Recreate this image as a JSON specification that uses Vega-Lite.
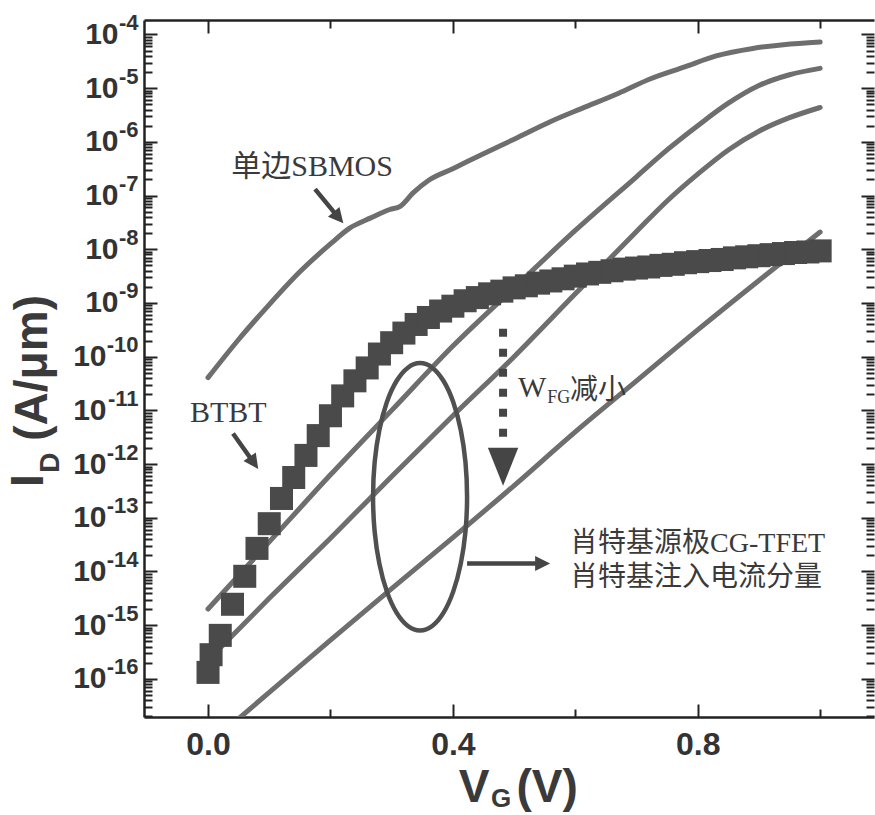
{
  "$schema": "https://vega.github.io/schema/vega-lite/v6.json",
  "width": 730,
  "height": 697,
  "autosize": {"type": "none"},
  "padding": {"left": 144, "top": 20, "right": 1, "bottom": 98},
  "background": "white",
  "config": {
    "view": {"stroke": null},
    "axis": {"domainColor": "#222", "domainWidth": 2.5, "tickColor": "#222", "tickWidth": 2, "labelFont": "Liberation Sans", "labelFontWeight": "bold", "labelColor": "#333", "grid": false, "labelOverlap": false}
  },
  "datasets": {
    "curves": [
      {"series": "SBMOS", "x": 0, "y": 4.07e-11}, {"series": "SBMOS", "x": 0.05, "y": 2.09e-10}, {"series": "SBMOS", "x": 0.1, "y": 9.33e-10}, {"series": "SBMOS", "x": 0.15, "y": 3.8e-9}, {"series": "SBMOS", "x": 0.2, "y": 1.26e-8}, {"series": "SBMOS", "x": 0.232, "y": 2.51e-8}, {"series": "SBMOS", "x": 0.265, "y": 3.8e-8}, {"series": "SBMOS", "x": 0.297, "y": 5.5e-8}, {"series": "SBMOS", "x": 0.314, "y": 6.31e-8}, {"series": "SBMOS", "x": 0.335, "y": 1.12e-7}, {"series": "SBMOS", "x": 0.36, "y": 1.91e-7}, {"series": "SBMOS", "x": 0.4, "y": 3.16e-7}, {"series": "SBMOS", "x": 0.45, "y": 6.03e-7}, {"series": "SBMOS", "x": 0.5, "y": 1.12e-6}, {"series": "SBMOS", "x": 0.56, "y": 2.4e-6}, {"series": "SBMOS", "x": 0.61, "y": 4.17e-6}, {"series": "SBMOS", "x": 0.67, "y": 7.94e-6}, {"series": "SBMOS", "x": 0.72, "y": 1.45e-5}, {"series": "SBMOS", "x": 0.78, "y": 2.51e-5}, {"series": "SBMOS", "x": 0.83, "y": 3.98e-5}, {"series": "SBMOS", "x": 0.89, "y": 5.5e-5}, {"series": "SBMOS", "x": 0.94, "y": 6.46e-5}, {"series": "SBMOS", "x": 1.0, "y": 7.24e-5},
      {"series": "TFET1", "x": 0, "y": 2.0e-15}, {"series": "TFET1", "x": 0.1, "y": 3.55e-14}, {"series": "TFET1", "x": 0.2, "y": 6.31e-13}, {"series": "TFET1", "x": 0.3, "y": 1.0e-11}, {"series": "TFET1", "x": 0.4, "y": 1.58e-10}, {"series": "TFET1", "x": 0.5, "y": 1.91e-9}, {"series": "TFET1", "x": 0.6, "y": 2.24e-8}, {"series": "TFET1", "x": 0.7, "y": 2.24e-7}, {"series": "TFET1", "x": 0.75, "y": 7.08e-7}, {"series": "TFET1", "x": 0.8, "y": 2.0e-6}, {"series": "TFET1", "x": 0.85, "y": 5.25e-6}, {"series": "TFET1", "x": 0.9, "y": 1.12e-5}, {"series": "TFET1", "x": 0.95, "y": 1.78e-5}, {"series": "TFET1", "x": 1.0, "y": 2.34e-5},
      {"series": "TFET2", "x": 0, "y": 2.24e-16}, {"series": "TFET2", "x": 0.1, "y": 3.16e-15}, {"series": "TFET2", "x": 0.2, "y": 4.17e-14}, {"series": "TFET2", "x": 0.3, "y": 5.89e-13}, {"series": "TFET2", "x": 0.4, "y": 7.94e-12}, {"series": "TFET2", "x": 0.5, "y": 1.0e-10}, {"series": "TFET2", "x": 0.6, "y": 1.48e-9}, {"series": "TFET2", "x": 0.7, "y": 2.14e-8}, {"series": "TFET2", "x": 0.75, "y": 7.94e-8}, {"series": "TFET2", "x": 0.8, "y": 2.51e-7}, {"series": "TFET2", "x": 0.85, "y": 7.08e-7}, {"series": "TFET2", "x": 0.9, "y": 1.58e-6}, {"series": "TFET2", "x": 0.95, "y": 2.82e-6}, {"series": "TFET2", "x": 1.0, "y": 4.37e-6},
      {"series": "TFET3", "x": 0.04, "y": 1.45e-17}, {"series": "TFET3", "x": 0.1, "y": 5.62e-17}, {"series": "TFET3", "x": 0.2, "y": 5.25e-16}, {"series": "TFET3", "x": 0.3, "y": 4.79e-15}, {"series": "TFET3", "x": 0.4, "y": 4.27e-14}, {"series": "TFET3", "x": 0.5, "y": 3.98e-13}, {"series": "TFET3", "x": 0.6, "y": 3.98e-12}, {"series": "TFET3", "x": 0.7, "y": 3.55e-11}, {"series": "TFET3", "x": 0.8, "y": 3.16e-10}, {"series": "TFET3", "x": 0.9, "y": 2.63e-9}, {"series": "TFET3", "x": 1.0, "y": 2.09e-8}
    ],
    "btbt": [
      {"x": 0.0, "y": 1.32e-16}, {"x": 0.005, "y": 2.82e-16}, {"x": 0.02, "y": 6.46e-16}, {"x": 0.04, "y": 2.45e-15}, {"x": 0.06, "y": 8.13e-15}, {"x": 0.08, "y": 2.69e-14}, {"x": 0.1, "y": 7.76e-14}, {"x": 0.12, "y": 2.29e-13}, {"x": 0.14, "y": 5.62e-13}, {"x": 0.16, "y": 1.45e-12}, {"x": 0.18, "y": 3.39e-12}, {"x": 0.2, "y": 7.94e-12}, {"x": 0.22, "y": 1.86e-11}, {"x": 0.24, "y": 3.55e-11}, {"x": 0.26, "y": 6.17e-11}, {"x": 0.28, "y": 1.12e-10}, {"x": 0.3, "y": 1.82e-10}, {"x": 0.32, "y": 2.75e-10}, {"x": 0.34, "y": 3.98e-10}, {"x": 0.36, "y": 5.37e-10}, {"x": 0.38, "y": 7.08e-10}, {"x": 0.4, "y": 8.71e-10}, {"x": 0.42, "y": 1.1e-9}, {"x": 0.44, "y": 1.26e-9}, {"x": 0.46, "y": 1.48e-9}, {"x": 0.48, "y": 1.66e-9}, {"x": 0.5, "y": 1.91e-9}, {"x": 0.52, "y": 2.09e-9}, {"x": 0.54, "y": 2.34e-9}, {"x": 0.56, "y": 2.57e-9}, {"x": 0.58, "y": 2.82e-9}, {"x": 0.6, "y": 3.16e-9}, {"x": 0.62, "y": 3.47e-9}, {"x": 0.64, "y": 3.72e-9}, {"x": 0.66, "y": 3.98e-9}, {"x": 0.68, "y": 4.27e-9}, {"x": 0.7, "y": 4.47e-9}, {"x": 0.72, "y": 4.68e-9}, {"x": 0.74, "y": 5.01e-9}, {"x": 0.76, "y": 5.25e-9}, {"x": 0.78, "y": 5.62e-9}, {"x": 0.8, "y": 5.89e-9}, {"x": 0.82, "y": 6.17e-9}, {"x": 0.84, "y": 6.46e-9}, {"x": 0.86, "y": 6.92e-9}, {"x": 0.88, "y": 7.24e-9}, {"x": 0.9, "y": 7.59e-9}, {"x": 0.92, "y": 7.94e-9}, {"x": 0.94, "y": 8.32e-9}, {"x": 0.96, "y": 8.71e-9}, {"x": 0.98, "y": 8.91e-9}, {"x": 1.0, "y": 9.33e-9}
    ],
    "ellipse": [
      {"k": 0, "x": 0.3464, "y": 7.59e-11}, {"k": 1, "x": 0.3663, "y": 6.24e-11}, {"k": 2, "x": 0.3848, "y": 3.52e-11}, {"k": 3, "x": 0.4007, "y": 1.42e-11}, {"k": 4, "x": 0.4129, "y": 4.32e-12}, {"k": 5, "x": 0.4206, "y": 1.08e-12}, {"k": 6, "x": 0.4232, "y": 2.45e-13}, {"k": 7, "x": 0.4206, "y": 5.57e-14}, {"k": 8, "x": 0.4129, "y": 1.4e-14}, {"k": 9, "x": 0.4007, "y": 4.26e-15}, {"k": 10, "x": 0.3848, "y": 1.71e-15}, {"k": 11, "x": 0.3663, "y": 9.66e-16}, {"k": 12, "x": 0.3464, "y": 7.94e-16}, {"k": 13, "x": 0.3265, "y": 9.66e-16}, {"k": 14, "x": 0.308, "y": 1.71e-15}, {"k": 15, "x": 0.2921, "y": 4.26e-15}, {"k": 16, "x": 0.2799, "y": 1.4e-14}, {"k": 17, "x": 0.2722, "y": 5.57e-14}, {"k": 18, "x": 0.2696, "y": 2.45e-13}, {"k": 19, "x": 0.2722, "y": 1.08e-12}, {"k": 20, "x": 0.2799, "y": 4.32e-12}, {"k": 21, "x": 0.2921, "y": 1.42e-11}, {"k": 22, "x": 0.308, "y": 3.52e-11}, {"k": 23, "x": 0.3265, "y": 6.24e-11}
    ],
    "shafts": [
      {"id": "sb", "x": 0.1748, "y": 1.32e-7, "xe": 0.2132, "ye": 3.89e-8},
      {"id": "bt", "x": 0.0408, "y": 3.72e-12, "xe": 0.075, "ye": 1.05e-12},
      {"id": "hz", "x": 0.4232, "y": 1.41e-14, "xe": 0.5466, "ye": 1.41e-14},
      {"id": "wfg", "x": 0.482, "y": 3.31e-10, "xe": 0.482, "ye": 2.75e-12}
    ],
    "heads": [
      {"id": "sb", "x": 0.2132, "y": 3.89e-8},
      {"id": "bt", "x": 0.075, "y": 1.05e-12},
      {"id": "hz", "x": 0.5466, "y": 1.41e-14},
      {"id": "wfg", "x": 0.482, "y": 8.91e-13}
    ],
    "texts": [
      {"g": "ann", "t": "单边SBMOS", "x": 0.17, "y": 3.37e-7},
      {"g": "ann", "t": "BTBT", "x": 0.033, "y": 9.0e-12},
      {"g": "W", "t": "W", "x": 0.5065, "y": 1.79e-11},
      {"g": "FG", "t": "FG", "x": 0.554, "y": 1.38e-11},
      {"g": "jx", "t": "减小", "x": 0.5915, "y": 1.64e-11},
      {"g": "big", "t": "肖特基源极CG-TFET", "x": 0.5915, "y": 3.31e-14},
      {"g": "big", "t": "肖特基注入电流分量", "x": 0.5915, "y": 7.41e-15},
      {"g": "ytitle", "t": "I", "x": -0.2925, "y": 4.92e-13},
      {"g": "ytitle", "t": "(A/μm)", "x": -0.286, "y": 6.19e-11},
      {"g": "ysub", "t": "D", "x": -0.2565, "y": 1.06e-12},
      {"g": "xtitle", "t": "V", "x": 0.4346, "y": 9.33e-19},
      {"g": "xtitle", "t": "(V)", "x": 0.5539, "y": 9.33e-19},
      {"g": "xsub", "t": "G", "x": 0.4788, "y": 5.75e-19}
    ]
  },
  "resolve": {"scale": {"x": "shared", "y": "shared"}, "axis": {"x": "independent", "y": "independent"}},
  "layer": [
    {
      "data": {"name": "curves"},
      "mark": {"type": "line", "stroke": "#6e6e6e", "strokeWidth": 5, "strokeCap": "round", "strokeJoin": "round", "interpolate": "monotone", "clip": true},
      "encoding": {
        "x": {"field": "x", "type": "quantitative", "scale": {"domain": [-0.1046, 1.088], "nice": false, "zero": false},
          "axis": {"orient": "bottom", "title": null, "values": [0, 0.2, 0.4, 0.6, 0.8, 1.0], "labelExpr": "round(datum.value*10) % 4 == 0 ? format(datum.value, '.1f') : ''", "tickSize": {"condition": {"test": "round(datum.value*10) % 4 == 0", "value": -13}, "value": -8}, "labelFontSize": 32, "labelPadding": 25, "labelFlush": false}},
        "y": {"field": "y", "type": "quantitative", "scale": {"type": "log", "domain": [1.95e-17, 1.86e-4], "nice": false},
          "axis": {"orient": "left", "title": null,
            "values": [2e-17, 3e-17, 4e-17, 5e-17, 6e-17, 7e-17, 8e-17, 9e-17, 1e-16, 2e-16, 3e-16, 4e-16, 5e-16, 6e-16, 7e-16, 8e-16, 9e-16, 1e-15, 2e-15, 3e-15, 4e-15, 5e-15, 6e-15, 7e-15, 8e-15, 9e-15, 1e-14, 2e-14, 3e-14, 4e-14, 5e-14, 6e-14, 7e-14, 8e-14, 9e-14, 1e-13, 2e-13, 3e-13, 4e-13, 5e-13, 6e-13, 7e-13, 8e-13, 9e-13, 1e-12, 2e-12, 3e-12, 4e-12, 5e-12, 6e-12, 7e-12, 8e-12, 9e-12, 1e-11, 2e-11, 3e-11, 4e-11, 5e-11, 6e-11, 7e-11, 8e-11, 9e-11, 1e-10, 2e-10, 3e-10, 4e-10, 5e-10, 6e-10, 7e-10, 8e-10, 9e-10, 1e-9, 2e-9, 3e-9, 4e-9, 5e-9, 6e-9, 7e-9, 8e-9, 9e-9, 1e-8, 2e-8, 3e-8, 4e-8, 5e-8, 6e-8, 7e-8, 8e-8, 9e-8, 1e-7, 2e-7, 3e-7, 4e-7, 5e-7, 6e-7, 7e-7, 8e-7, 9e-7, 1e-6, 2e-6, 3e-6, 4e-6, 5e-6, 6e-6, 7e-6, 8e-6, 9e-6, 1e-5, 2e-5, 3e-5, 4e-5, 5e-5, 6e-5, 7e-5, 8e-5, 9e-5, 1e-4],
            "labelExpr": "abs(log(datum.value)/LN10 - round(log(datum.value)/LN10)) < 0.001 ? '10' : ''",
            "tickSize": {"condition": {"test": "abs(log(datum.value)/LN10 - round(log(datum.value)/LN10)) < 0.001", "value": -13}, "value": -8},
            "labelFontSize": 30,
            "labelPadding": {"condition": {"test": "datum.value > 5e-10", "value": 39}, "value": 51}}},
        "detail": {"field": "series"}
      }
    },
    {
      "data": {"name": "btbt"},
      "mark": {"type": "square", "size": 530, "color": "#4a4a4a", "opacity": 1, "filled": true},
      "encoding": {
        "x": {"field": "x", "type": "quantitative", "scale": {"domain": [-0.1046, 1.088], "nice": false, "zero": false},
          "axis": {"orient": "top", "title": null, "values": [0, 0.2, 0.4, 0.6, 0.8, 1.0], "labels": false, "tickSize": {"condition": {"test": "round(datum.value*10) % 4 == 0", "value": -13}, "value": -8}}},
        "y": {"field": "y", "type": "quantitative", "scale": {"type": "log", "domain": [1.95e-17, 1.86e-4], "nice": false},
          "axis": {"orient": "right", "title": null, "labels": false, "domain": false,
            "values": [2e-17, 3e-17, 4e-17, 5e-17, 6e-17, 7e-17, 8e-17, 9e-17, 1e-16, 2e-16, 3e-16, 4e-16, 5e-16, 6e-16, 7e-16, 8e-16, 9e-16, 1e-15, 2e-15, 3e-15, 4e-15, 5e-15, 6e-15, 7e-15, 8e-15, 9e-15, 1e-14, 2e-14, 3e-14, 4e-14, 5e-14, 6e-14, 7e-14, 8e-14, 9e-14, 1e-13, 2e-13, 3e-13, 4e-13, 5e-13, 6e-13, 7e-13, 8e-13, 9e-13, 1e-12, 2e-12, 3e-12, 4e-12, 5e-12, 6e-12, 7e-12, 8e-12, 9e-12, 1e-11, 2e-11, 3e-11, 4e-11, 5e-11, 6e-11, 7e-11, 8e-11, 9e-11, 1e-10, 2e-10, 3e-10, 4e-10, 5e-10, 6e-10, 7e-10, 8e-10, 9e-10, 1e-9, 2e-9, 3e-9, 4e-9, 5e-9, 6e-9, 7e-9, 8e-9, 9e-9, 1e-8, 2e-8, 3e-8, 4e-8, 5e-8, 6e-8, 7e-8, 8e-8, 9e-8, 1e-7, 2e-7, 3e-7, 4e-7, 5e-7, 6e-7, 7e-7, 8e-7, 9e-7, 1e-6, 2e-6, 3e-6, 4e-6, 5e-6, 6e-6, 7e-6, 8e-6, 9e-6, 1e-5, 2e-5, 3e-5, 4e-5, 5e-5, 6e-5, 7e-5, 8e-5, 9e-5, 1e-4],
            "tickSize": {"condition": {"test": "abs(log(datum.value)/LN10 - round(log(datum.value)/LN10)) < 0.001", "value": -13}, "value": -8}}}
      }
    },
    {
      "data": {"name": "ellipse"},
      "mark": {"type": "line", "interpolate": "cardinal-closed", "stroke": "#505050", "strokeWidth": 4.5},
      "encoding": {
        "x": {"field": "x", "type": "quantitative", "scale": {"domain": [-0.1046, 1.088], "nice": false, "zero": false}, "axis": null},
        "y": {"field": "y", "type": "quantitative", "scale": {"type": "log", "domain": [1.95e-17, 1.86e-4], "nice": false},
          "axis": {"orient": "left", "title": null, "ticks": false, "domain": false,
            "values": [1e-16, 1e-15, 1e-14, 1e-13, 1e-12, 1e-11, 1e-10, 1e-9, 1e-8, 1e-7, 1e-6, 1e-5, 1e-4],
            "labelExpr": "'-' + format(-round(log(datum.value)/LN10), 'd')",
            "labelFontSize": 22, "labelPadding": 6, "labelOffset": -12}},
        "order": {"field": "k", "type": "quantitative"}
      }
    },
    {
      "data": {"name": "shafts"},
      "transform": [{"filter": "datum.id != 'wfg'"}],
      "mark": {"type": "rule", "stroke": "#454545", "strokeWidth": 4.5},
      "encoding": {
        "x": {"field": "x", "type": "quantitative", "scale": {"domain": [-0.1046, 1.088], "nice": false, "zero": false}, "axis": null},
        "y": {"field": "y", "type": "quantitative", "scale": {"type": "log", "domain": [1.95e-17, 1.86e-4], "nice": false}, "axis": null},
        "x2": {"field": "xe"},
        "y2": {"field": "ye"}
      }
    },
    {
      "data": {"name": "shafts"},
      "transform": [{"filter": "datum.id == 'wfg'"}],
      "mark": {"type": "rule", "stroke": "#454545", "strokeWidth": 8, "strokeDash": [8, 12], "strokeCap": "butt"},
      "encoding": {
        "x": {"field": "x", "type": "quantitative", "scale": {"domain": [-0.1046, 1.088], "nice": false, "zero": false}, "axis": null},
        "y": {"field": "y", "type": "quantitative", "scale": {"type": "log", "domain": [1.95e-17, 1.86e-4], "nice": false}, "axis": null},
        "x2": {"field": "xe"},
        "y2": {"field": "ye"}
      }
    },
    {
      "data": {"name": "heads"},
      "transform": [{"filter": "datum.id == 'sb'"}],
      "mark": {"type": "point", "shape": "M-1,1L0,-1L1,1Z", "size": 225, "angle": 140, "filled": true, "color": "#454545", "opacity": 1},
      "encoding": {
        "x": {"field": "x", "type": "quantitative", "scale": {"domain": [-0.1046, 1.088], "nice": false, "zero": false}, "axis": null},
        "y": {"field": "y", "type": "quantitative", "scale": {"type": "log", "domain": [1.95e-17, 1.86e-4], "nice": false}, "axis": null}
      }
    },
    {
      "data": {"name": "heads"},
      "transform": [{"filter": "datum.id == 'bt'"}],
      "mark": {"type": "point", "shape": "M-1,1L0,-1L1,1Z", "size": 225, "angle": 145, "filled": true, "color": "#454545", "opacity": 1},
      "encoding": {
        "x": {"field": "x", "type": "quantitative", "scale": {"domain": [-0.1046, 1.088], "nice": false, "zero": false}, "axis": null},
        "y": {"field": "y", "type": "quantitative", "scale": {"type": "log", "domain": [1.95e-17, 1.86e-4], "nice": false}, "axis": null}
      }
    },
    {
      "data": {"name": "heads"},
      "transform": [{"filter": "datum.id == 'hz'"}],
      "mark": {"type": "point", "shape": "M-1,1L0,-1L1,1Z", "size": 225, "angle": 90, "filled": true, "color": "#454545", "opacity": 1},
      "encoding": {
        "x": {"field": "x", "type": "quantitative", "scale": {"domain": [-0.1046, 1.088], "nice": false, "zero": false}, "axis": null},
        "y": {"field": "y", "type": "quantitative", "scale": {"type": "log", "domain": [1.95e-17, 1.86e-4], "nice": false}, "axis": null}
      }
    },
    {
      "data": {"name": "heads"},
      "transform": [{"filter": "datum.id == 'wfg'"}],
      "mark": {"type": "point", "shape": "M-0.8,-1L0.8,-1L0,1Z", "size": 1444, "filled": true, "color": "#454545", "opacity": 1},
      "encoding": {
        "x": {"field": "x", "type": "quantitative", "scale": {"domain": [-0.1046, 1.088], "nice": false, "zero": false}, "axis": null},
        "y": {"field": "y", "type": "quantitative", "scale": {"type": "log", "domain": [1.95e-17, 1.86e-4], "nice": false}, "axis": null}
      }
    },
    {
      "data": {"name": "texts"},
      "transform": [{"filter": "datum.g == 'ann'"}],
      "mark": {"type": "text", "font": "'Liberation Serif', 'Noto Sans CJK SC'", "fontSize": 30, "align": "center", "baseline": "middle", "color": "#3a3a3a"},
      "encoding": {
        "x": {"field": "x", "type": "quantitative", "scale": {"domain": [-0.1046, 1.088], "nice": false, "zero": false}, "axis": null},
        "y": {"field": "y", "type": "quantitative", "scale": {"type": "log", "domain": [1.95e-17, 1.86e-4], "nice": false}, "axis": null},
        "text": {"field": "t"}
      }
    },
    {
      "data": {"name": "texts"},
      "transform": [{"filter": "datum.g == 'big'"}],
      "mark": {"type": "text", "font": "'Liberation Serif', 'Noto Sans CJK SC'", "fontSize": 28, "align": "left", "baseline": "middle", "color": "#3a3a3a"},
      "encoding": {
        "x": {"field": "x", "type": "quantitative", "scale": {"domain": [-0.1046, 1.088], "nice": false, "zero": false}, "axis": null},
        "y": {"field": "y", "type": "quantitative", "scale": {"type": "log", "domain": [1.95e-17, 1.86e-4], "nice": false}, "axis": null},
        "text": {"field": "t"}
      }
    },
    {
      "data": {"name": "texts"},
      "transform": [{"filter": "datum.g == 'W'"}],
      "mark": {"type": "text", "font": "'Liberation Serif', 'Noto Sans CJK SC'", "fontSize": 30, "align": "left", "baseline": "alphabetic", "color": "#3a3a3a"},
      "encoding": {
        "x": {"field": "x", "type": "quantitative", "scale": {"domain": [-0.1046, 1.088], "nice": false, "zero": false}, "axis": null},
        "y": {"field": "y", "type": "quantitative", "scale": {"type": "log", "domain": [1.95e-17, 1.86e-4], "nice": false}, "axis": null},
        "text": {"field": "t"}
      }
    },
    {
      "data": {"name": "texts"},
      "transform": [{"filter": "datum.g == 'FG'"}],
      "mark": {"type": "text", "font": "'Liberation Serif', 'Noto Sans CJK SC'", "fontSize": 18, "align": "left", "baseline": "alphabetic", "color": "#3a3a3a"},
      "encoding": {
        "x": {"field": "x", "type": "quantitative", "scale": {"domain": [-0.1046, 1.088], "nice": false, "zero": false}, "axis": null},
        "y": {"field": "y", "type": "quantitative", "scale": {"type": "log", "domain": [1.95e-17, 1.86e-4], "nice": false}, "axis": null},
        "text": {"field": "t"}
      }
    },
    {
      "data": {"name": "texts"},
      "transform": [{"filter": "datum.g == 'jx'"}],
      "mark": {"type": "text", "font": "'Noto Sans CJK SC'", "fontSize": 28, "align": "left", "baseline": "alphabetic", "color": "#3a3a3a"},
      "encoding": {
        "x": {"field": "x", "type": "quantitative", "scale": {"domain": [-0.1046, 1.088], "nice": false, "zero": false}, "axis": null},
        "y": {"field": "y", "type": "quantitative", "scale": {"type": "log", "domain": [1.95e-17, 1.86e-4], "nice": false}, "axis": null},
        "text": {"field": "t"}
      }
    },
    {
      "data": {"name": "texts"},
      "transform": [{"filter": "datum.g == 'ytitle'"}],
      "mark": {"type": "text", "font": "Liberation Sans", "fontWeight": "bold", "fontSize": 46, "angle": 270, "align": "center", "baseline": "middle", "color": "#3a3a3a"},
      "encoding": {
        "x": {"field": "x", "type": "quantitative", "scale": {"domain": [-0.1046, 1.088], "nice": false, "zero": false}, "axis": null},
        "y": {"field": "y", "type": "quantitative", "scale": {"type": "log", "domain": [1.95e-17, 1.86e-4], "nice": false}, "axis": null},
        "text": {"field": "t"}
      }
    },
    {
      "data": {"name": "texts"},
      "transform": [{"filter": "datum.g == 'ysub'"}],
      "mark": {"type": "text", "font": "Liberation Sans", "fontWeight": "bold", "fontSize": 28, "angle": 270, "align": "center", "baseline": "middle", "color": "#3a3a3a"},
      "encoding": {
        "x": {"field": "x", "type": "quantitative", "scale": {"domain": [-0.1046, 1.088], "nice": false, "zero": false}, "axis": null},
        "y": {"field": "y", "type": "quantitative", "scale": {"type": "log", "domain": [1.95e-17, 1.86e-4], "nice": false}, "axis": null},
        "text": {"field": "t"}
      }
    },
    {
      "data": {"name": "texts"},
      "transform": [{"filter": "datum.g == 'xtitle'"}],
      "mark": {"type": "text", "font": "Liberation Sans", "fontWeight": "bold", "fontSize": 46, "align": "center", "baseline": "middle", "color": "#3a3a3a"},
      "encoding": {
        "x": {"field": "x", "type": "quantitative", "scale": {"domain": [-0.1046, 1.088], "nice": false, "zero": false}, "axis": null},
        "y": {"field": "y", "type": "quantitative", "scale": {"type": "log", "domain": [1.95e-17, 1.86e-4], "nice": false}, "axis": null},
        "text": {"field": "t"}
      }
    },
    {
      "data": {"name": "texts"},
      "transform": [{"filter": "datum.g == 'xsub'"}],
      "mark": {"type": "text", "font": "Liberation Sans", "fontWeight": "bold", "fontSize": 26, "align": "center", "baseline": "middle", "color": "#3a3a3a"},
      "encoding": {
        "x": {"field": "x", "type": "quantitative", "scale": {"domain": [-0.1046, 1.088], "nice": false, "zero": false}, "axis": null},
        "y": {"field": "y", "type": "quantitative", "scale": {"type": "log", "domain": [1.95e-17, 1.86e-4], "nice": false}, "axis": null},
        "text": {"field": "t"}
      }
    }
  ]
}
